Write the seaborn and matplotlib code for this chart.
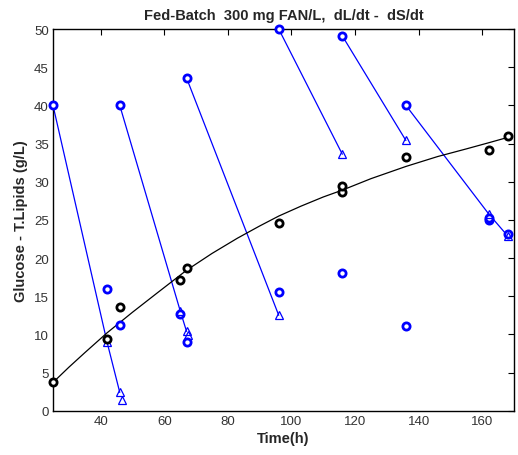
import numpy as np
import pandas as pd
import matplotlib
matplotlib.use("Agg")
import matplotlib.pyplot as plt
import seaborn as sns

sns.set_style("white")
plt.rcParams['font.family'] = ['Liberation Sans', 'DejaVu Sans']

# Total lipids (black circles)
lip_t = [25, 42, 46, 65, 67, 96, 116, 116, 136, 162, 168]
lip_y = [3.8, 9.4, 13.6, 17.1, 18.7, 24.6, 28.6, 29.4, 33.2, 34.1, 36.0]

# Lipid trend curve (black line)
fit_t = [25, 30, 35, 42, 50, 58, 67, 75, 83, 90, 96, 103, 110, 116, 125,
         136, 146, 155, 162, 168]
fit_y = [3.7, 5.7, 7.6, 10.2, 12.9, 15.5, 18.4, 20.6, 22.6, 24.2, 25.5, 26.8,
         28.0, 28.9, 30.4, 32.0, 33.3, 34.3, 35.1, 35.8]

# Glucose measurements (blue circles)
glu_t = [25, 42, 46, 46, 65, 67, 67, 96, 96, 116, 116, 136, 136, 162, 162, 168]
glu_y = [40.0, 16.0, 40.0, 11.2, 12.7, 9.0, 43.6, 50.0, 15.6, 49.1, 18.0,
         40.0, 11.1, 25.0, 25.3, 23.2]

# Glucose after feeding (blue triangles)
tri_t = [42, 46, 46.7, 65, 67, 67.5, 96, 116, 136, 162, 168]
tri_y = [9.0, 2.4, 1.4, 13.1, 10.4, 9.9, 12.5, 33.6, 35.4, 25.8, 22.9]

# Consumption segments between feeds (blue lines)
seg_id = [1, 1, 1, 2, 2, 2, 3, 3, 4, 4, 5, 5, 6, 6, 6]
seg_t = [25, 42, 46, 46, 65, 67, 67, 96, 96, 116, 116, 136, 136, 162, 168]
seg_y = [40.0, 9.0, 2.4, 40.0, 13.1, 10.4, 43.6, 12.5, 50.0, 33.6, 49.1, 35.4,
         40.0, 25.8, 22.9]

x_ticks = [40, 60, 80, 100, 120, 140, 160]
y_ticks = [0, 5, 10, 15, 20, 25, 30, 35, 40, 45, 50]

blue = "#0000ff"

fig = plt.figure(figsize=(5.18, 4.56), dpi=100)
ax = fig.add_axes([0.1023, 0.0971, 0.8900, 0.8370])

segs = pd.DataFrame({"t": seg_t, "y": seg_y, "seg": seg_id})
sns.lineplot(data=segs, x="t", y="y", units="seg", estimator=None, sort=False,
             color=blue, lw=0.9, ax=ax)
sns.lineplot(x=fit_t, y=fit_y, estimator=None, sort=False, color="black", lw=0.9, ax=ax)

ax.plot(glu_t, glu_y, ls="none", marker="o", ms=5.2, mfc="white", mec=blue,
        mew=2.0, zorder=5, clip_on=False)
ax.plot(tri_t, tri_y, ls="none", marker="^", ms=5.5, mfc="none", mec=blue,
        mew=0.9, zorder=5, clip_on=False)
ax.plot(lip_t, lip_y, ls="none", marker="o", ms=5.2, mfc="white", mec="black",
        mew=2.0, zorder=6, clip_on=False)

ax.set_xlim(25, 170)
ax.set_ylim(0, 50)
ax.set_xticks(x_ticks)
ax.set_yticks(y_ticks)
ax.tick_params(direction="in", length=4, width=0.8, top=True, right=True,
               labelsize=9.5, colors="black", labelcolor="#333333", pad=3)
for s in ax.spines.values():
    s.set_color("black")
    s.set_linewidth(1.0)

ax.set_xlabel("Time(h)", fontsize=10.5, fontweight="bold", labelpad=3)
ax.set_ylabel("Glucose - T.Lipids (g/L)", fontsize=10.5, fontweight="bold", labelpad=4)
ax.set_title("Fed-Batch  300 mg FAN/L,  dL/dt -  dS/dt", fontsize=10.5,
             fontweight="bold", pad=7)

fig.savefig("out.png", dpi=100)
